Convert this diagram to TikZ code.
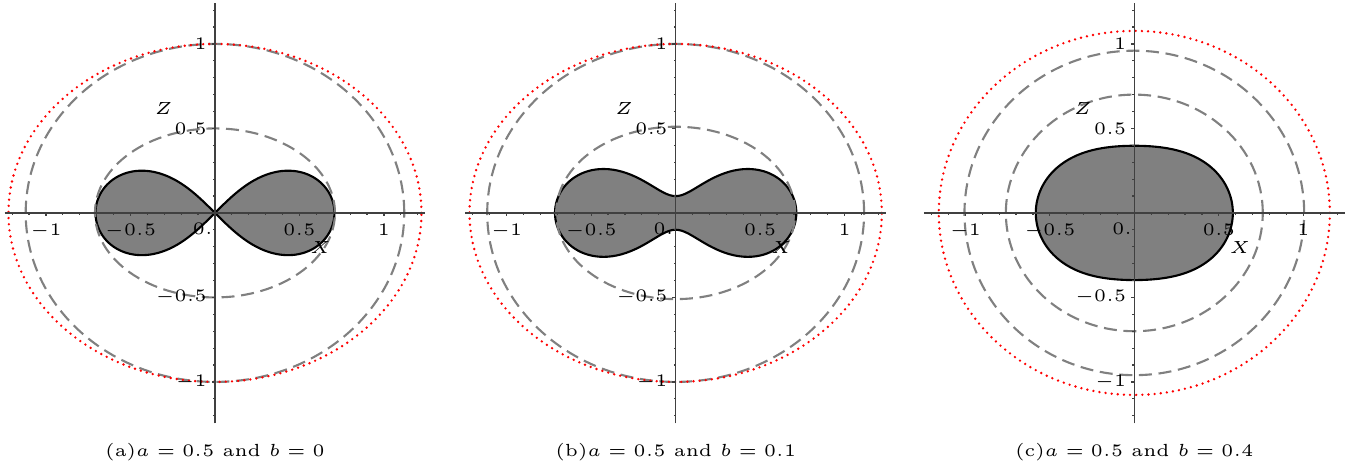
\documentclass[tikz,border=0pt]{standalone}
\usepackage{amsmath}
\usetikzlibrary{positioning}

\tikzset{
    axis/.style={black!75, line width=0.4pt},
    tickmark/.style={black!75, line width=0.35pt},
    ticklabel/.style={inner sep=0pt, font=\fontsize{4}{5}\selectfont},
    axislabel/.style={inner sep=0pt, font=\fontsize{4.8}{6}\selectfont},
    caption/.style={inner sep=0pt, font=\fontsize{5}{6}\selectfont},
    ring/.style={gray, line width=0.6pt, dash pattern=on 3.7pt off 1.9pt},
    redring/.style={red, line width=0.75pt, line cap=round, dash pattern=on 0pt off 1.75pt},
    oval/.style={draw=black, fill=gray, line width=0.6pt}
}

\begin{document}
\begin{tikzpicture}[
    x=1.69cm, y=1.69cm,
    declare function={
        rb(\q)=sqrt(0.25*cos(2*\q)+sqrt(0.0625*pow(cos(2*\q),2)+0.0051));
        rc(\q)=sqrt(0.091*cos(2*\q)+sqrt(0.008281*pow(cos(2*\q),2)+0.0537));
    }
]
\useasboundingbox (-1.272,-1.521) rectangle (6.799,1.260);

% (a) b = 0
\begin{scope}
\draw[oval] plot[domain=0:360, samples=241, variable=\t]
    ({0.7071*cos(\t)/(1+pow(sin(\t),2))}, {0.7071*sin(\t)*cos(\t)/(1+pow(sin(\t),2))}) -- cycle;
\draw[ring] (0,0) ellipse [x radius=1.12, y radius=1];
\draw[ring] (0,0) ellipse [x radius=0.71, y radius=0.5];
\draw[redring] (0,0) ellipse [x radius=1.222, y radius=1];
\end{scope}

% (b) b = 0.1
\begin{scope}[shift={(2.726,0)}]
\draw[oval] plot[domain=0:360, samples=241, variable=\t]
    ({rb(\t)*cos(\t)}, {rb(\t)*sin(\t)}) -- cycle;
\draw[ring] (0,0) ellipse [x radius=1.115, y radius=1];
\draw[ring] (0,0) ellipse [x radius=0.707, y radius=0.51];
\draw[redring] (0,0) ellipse [x radius=1.22, y radius=1];
\end{scope}

% (c) b = 0.4
\begin{scope}[shift={(5.44,0)}]
\draw[oval] plot[domain=0:360, samples=241, variable=\t]
    ({rc(\t)*cos(\t)}, {rc(\t)*sin(\t)}) -- cycle;
\draw[ring] (0,0) ellipse [x radius=1.005, y radius=0.96];
\draw[ring] (0,0) ellipse [x radius=0.76, y radius=0.70];
\draw[redring] (0,0) ellipse [x radius=1.157, y radius=1.077];
\end{scope}

% Axes, ticks and captions
\foreach \sx/\p/\bv in {0/a/0, 2.726/b/0.1, 5.44/c/0.4} {
\begin{scope}[shift={(\sx,0)}]
\draw[axis] (-1.245,0) -- (1.245,0);
\draw[axis] (0,-1.245) -- (0,1.245);
\foreach \k in {-12,...,12} {
    \draw[tickmark] (\k/10,0) -- (\k/10,-0.012);
    \draw[tickmark] (0,\k/10) -- (-0.012,\k/10);
}
\foreach \v in {-1,-0.5,0.5,1} {
    \draw[tickmark] (\v,0) -- (\v,-0.02);
    \draw[tickmark] (0,\v) -- (-0.02,\v);
}

\node[ticklabel, anchor=north] (xm1\p) at (-1,-0.06) {$-1$};
\node[ticklabel, anchor=north] (xmh\p) at (-0.5,-0.06) {$-0.5$};
\node[ticklabel, anchor=north east] (xo\p) at (-0.008,-0.055) {$0.$};
\node[ticklabel, anchor=north] (xph\p) at (0.5,-0.06) {$0.5$};
\node[ticklabel, anchor=north] (xp1\p) at (1,-0.06) {$1$};

\node[ticklabel, anchor=east] (zp1\p) at (-0.045,1) {$1$};
\node[ticklabel, anchor=east] (zph\p) at (-0.045,0.5) {$0.5$};
\node[ticklabel, anchor=east] (zmh\p) at (-0.045,-0.5) {$-0.5$};
\node[ticklabel, anchor=east] (zm1\p) at (-0.045,-1) {$-1$};

\node[axislabel] (Z\p) at (-0.305,0.62) {$Z$};
\node[axislabel] (X\p) at (0.625,-0.203) {$X$};

\node[caption] (cap\p) at (0,-1.414) {(\p)$a=0.5$ and $b=\bv$};
\end{scope}
}

\end{tikzpicture}
\end{document}
